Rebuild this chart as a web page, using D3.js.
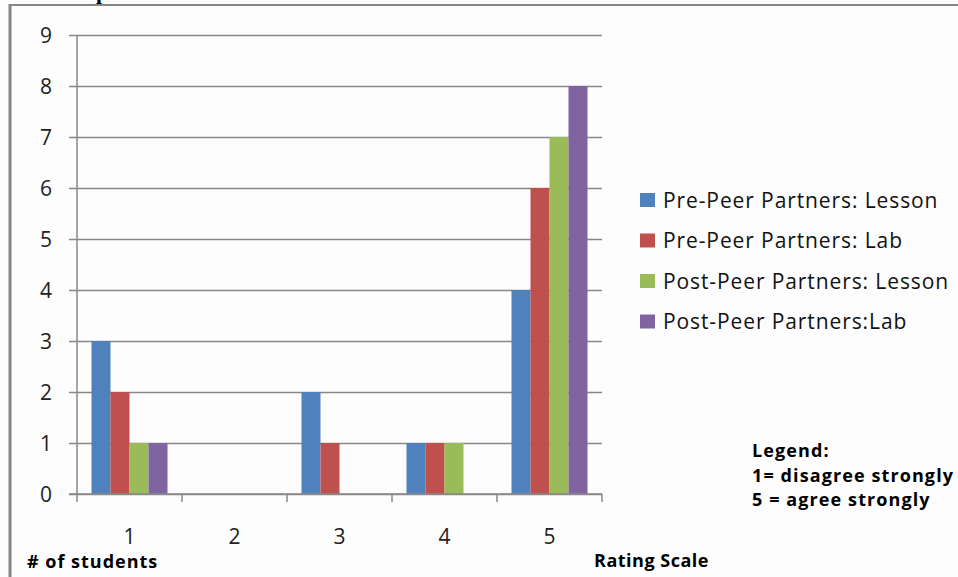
<!DOCTYPE html>
<html>
<head>
<meta charset="utf-8">
<script src="https://cdn.jsdelivr.net/npm/d3@7"></script>
<style>
  html, body { margin: 0; padding: 0; background: #fdfdfd; }
  svg { display: block; }
</style>
</head>
<body>
<svg id="chart" width="958" height="577"></svg>
<script>
// Rating-scale categories and survey counts per series
const categories = ["1", "2", "3", "4", "5"];
const seriesNames = [
  "Pre-Peer Partners: Lesson",
  "Pre-Peer Partners: Lab",
  "Post-Peer Partners: Lesson",
  "Post-Peer Partners:Lab"
];
const preLesson  = [3, 0, 2, 1, 4];
const preLab     = [2, 0, 1, 1, 6];
const postLesson = [1, 0, 0, 1, 7];
const postLab    = [1, 0, 0, 0, 8];
const yTicks = [0, 1, 2, 3, 4, 5, 6, 7, 8, 9];
const seriesColors = ["#4F81BD", "#C0504D", "#9BBB59", "#8064A2"];

const seriesValues = [preLesson, preLab, postLesson, postLab];

const svg = d3.select("#chart");
const font = "'Open Sans', 'Noto Sans', sans-serif";

// Frame around the chart
svg.append("line").attr("x1", 10).attr("x2", 958).attr("y1", 5).attr("y2", 5)
  .attr("stroke", "#858585").attr("stroke-width", 2);
svg.append("line").attr("x1", 10).attr("x2", 10).attr("y1", 4).attr("y2", 577)
  .attr("stroke", "#858585").attr("stroke-width", 3);

// Tail of the heading above the frame
svg.append("text").attr("x", 96).attr("y", -1)
  .attr("font-family", "'Liberation Serif', serif").attr("font-weight", "bold")
  .attr("font-size", 22).attr("fill", "#000").text("p");

const x0 = d3.scaleBand().domain(categories).range([77, 602]).paddingInner(0).paddingOuter(0);
const x1 = d3.scaleBand().domain(d3.range(seriesNames.length))
  .range([0, x0.bandwidth()]).paddingInner(0).paddingOuter(0.763);
const y = d3.scaleLinear().domain([0, 9]).range([494, 35]);

// Horizontal gridlines with left tick stubs
const grid = svg.append("g").attr("transform", "translate(77,0)")
  .call(d3.axisLeft(y).tickValues(yTicks).tickSize(-525).tickFormat(""));
grid.select(".domain").remove();
grid.selectAll(".tick line").attr("stroke", "#888").attr("stroke-width", 1.5)
  .attr("x1", -8).attr("x2", 525);

// Y tick labels
svg.append("g").selectAll("text").data(yTicks).join("text")
  .attr("x", 52).attr("y", d => y(d)).attr("dy", "0.36em")
  .attr("text-anchor", "end")
  .attr("font-family", font).attr("font-size", 21).attr("fill", "#222")
  .text(d => d);

// Bars
const groups = svg.append("g").selectAll("g").data(categories).join("g")
  .attr("transform", d => `translate(${x0(d)},0)`);
groups.selectAll("rect")
  .data((c, ci) => seriesValues.map((vals, si) => ({ si, v: vals[ci] })))
  .join("rect")
  .attr("x", d => x1(d.si))
  .attr("width", x1.bandwidth())
  .attr("y", d => y(d.v))
  .attr("height", d => y(0) - y(d.v))
  .attr("fill", d => seriesColors[d.si]);

// Y axis line
svg.append("line").attr("x1", 77).attr("x2", 77).attr("y1", y(9)).attr("y2", y(0))
  .attr("stroke", "#888").attr("stroke-width", 1.5);

// X axis with ticks at category boundaries
const xAxis = svg.append("g").attr("transform", `translate(0,${y(0)})`);
xAxis.append("line").attr("x1", 69).attr("x2", 602).attr("y1", 0).attr("y2", 0)
  .attr("stroke", "#888").attr("stroke-width", 1.5);
const boundaries = categories.map(c => x0(c)).concat([x0(categories[categories.length - 1]) + x0.bandwidth()]);
xAxis.selectAll(".bt").data(boundaries).join("line").attr("class", "bt")
  .attr("x1", d => d).attr("x2", d => d).attr("y1", 0).attr("y2", 8)
  .attr("stroke", "#888").attr("stroke-width", 1.5);
xAxis.selectAll("text").data(categories).join("text")
  .attr("x", d => x0(d) + x0.bandwidth() / 2).attr("y", 50)
  .attr("text-anchor", "middle")
  .attr("font-family", font).attr("font-size", 21).attr("fill", "#222")
  .text(d => d);

// Series legend
const legend = svg.append("g").selectAll("g").data(seriesNames).join("g")
  .attr("transform", (d, i) => `translate(640,${200 + i * 40.5})`);
legend.append("rect").attr("x", 0).attr("y", -7).attr("width", 15).attr("height", 14)
  .attr("fill", (d, i) => seriesColors[i]);
legend.append("text").attr("x", 23).attr("y", 0).attr("dy", "0.36em")
  .attr("font-family", font).attr("font-size", 21).attr("letter-spacing", 0.9)
  .attr("fill", "#111")
  .text(d => d);

// Rating scale key
const keyLines = ["Legend:", "1= disagree strongly", "5 = agree strongly"];
svg.append("g").selectAll("text").data(keyLines).join("text")
  .attr("x", 752).attr("y", (d, i) => 457 + i * 24.5)
  .attr("font-family", font).attr("font-weight", "bold").attr("font-size", 18)
  .attr("letter-spacing", 1.1)
  .attr("fill", "#000").text(d => d);

// Axis titles
svg.append("text").attr("x", 27).attr("y", 568)
  .attr("font-family", font).attr("font-weight", "bold").attr("font-size", 18)
  .attr("letter-spacing", 1)
  .attr("fill", "#000").text("# of students");
svg.append("text").attr("x", 594).attr("y", 567)
  .attr("font-family", font).attr("font-weight", "bold").attr("font-size", 18)
  .attr("letter-spacing", 0.5)
  .attr("fill", "#000").text("Rating Scale");
</script>
</body>
</html>
